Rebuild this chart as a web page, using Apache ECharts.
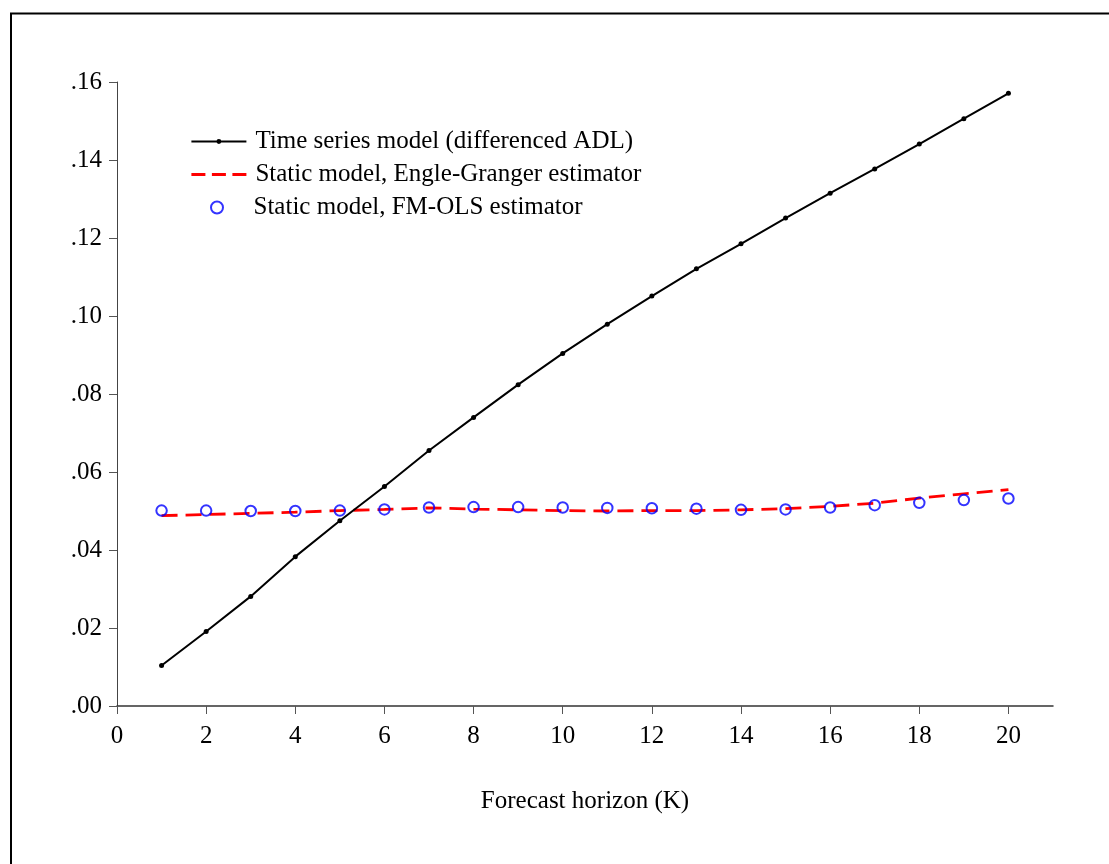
<!DOCTYPE html>
<html>
<head>
<meta charset="utf-8">
<script src="https://cdn.jsdelivr.net/npm/echarts@6/dist/echarts.min.js"></script>
<style>
html,body{margin:0;padding:0;background:#fff;}
#chart{width:1109px;height:864px;}
</style>
</head>
<body>
<div id="chart"></div>
<script>
// Forecast horizons
const horizons = [1,2,3,4,5,6,7,8,9,10,11,12,13,14,15,16,17,18,19,20];
// Time series model (differenced ADL)
const adlValues = [0.0104,0.0191,0.0281,0.0383,0.0475,0.0563,0.0655,0.0740,0.0824,0.0904,
                   0.0979,0.1051,0.1121,0.1185,0.1251,0.1315,0.1377,0.1441,0.1506,0.1571];
// Static model, Engle-Granger estimator
const egValues = [0.0488,0.0491,0.0494,0.0497,0.0501,0.0504,0.0508,0.0505,0.0503,0.0501,
                  0.0500,0.0501,0.0501,0.0503,0.0506,0.0512,0.0520,0.0533,0.0544,0.0555];
// Static model, FM-OLS estimator
const fmValues = [0.0501,0.0501,0.0500,0.0500,0.0501,0.0504,0.0509,0.0510,0.0510,0.0509,
                  0.0508,0.0507,0.0506,0.0503,0.0504,0.0509,0.0515,0.0521,0.0528,0.0532];
// Tick labels
const xTicks = [0,2,4,6,8,10,12,14,16,18,20];
const yTickLabels = ['.00','.02','.04','.06','.08','.10','.12','.14','.16'];

const seriesNames = ['Time series model (differenced ADL)',
                     'Static model, Engle-Granger estimator',
                     'Static model, FM-OLS estimator'];

const FONT = 'Liberation Serif';
const BLUE = '#0000ff';
const pair = (vals) => horizons.map((h, i) => [h, vals[i]]);
const legendText = {fontFamily: FONT, fontSize: 25, color: '#000', padding: [0, 0, 0, 4]};

const chart = echarts.init(document.getElementById('chart'), null, {renderer: 'canvas'});
chart.setOption({
  backgroundColor: '#fff',
  animation: false,
  graphic: [{
    type: 'rect',
    shape: {x: 11, y: 13.5, width: 1120, height: 880},
    style: {fill: 'none', stroke: '#000', lineWidth: 2},
    silent: true
  }],
  grid: {left: 117, right: 56, top: 82, bottom: 158, containLabel: false},
  legend: [{
    orient: 'vertical',
    left: 190,
    top: 129,
    padding: 0,
    itemWidth: 55,
    itemHeight: 6,
    itemGap: 8,
    textStyle: legendText,
    data: [
      {name: seriesNames[0]},
      {name: seriesNames[1], itemStyle: {color: 'rgba(0,0,0,0)', borderWidth: 0},
       lineStyle: {color: '#ff0000', width: 2.8, type: [14, 6.5]}}
    ]
  }, {
    orient: 'vertical',
    left: 210,
    top: 195,
    padding: 0,
    itemWidth: 55,
    itemHeight: 12,
    textStyle: legendText,
    data: [seriesNames[2]]
  }],
  xAxis: {
    type: 'value',
    min: 0,
    max: 21,
    interval: 2,
    name: 'Forecast horizon (K)',
    nameLocation: 'middle',
    nameGap: 83,
    nameTextStyle: {fontFamily: FONT, fontSize: 25, color: '#000'},
    axisLine: {show: true, onZero: false, lineStyle: {color: '#333', width: 1.5}},
    axisTick: {show: true, length: 8, lineStyle: {color: '#555', width: 1}, customValues: xTicks},
    axisLabel: {fontFamily: FONT, fontSize: 25, color: '#000', margin: 18, customValues: xTicks},
    splitLine: {show: false}
  },
  yAxis: {
    type: 'value',
    min: 0,
    max: 0.16,
    interval: 0.02,
    axisLine: {show: true, lineStyle: {color: '#444', width: 1}},
    axisTick: {show: true, length: 8, lineStyle: {color: '#555', width: 1}},
    axisLabel: {
      fontFamily: FONT, fontSize: 25, color: '#000', margin: 15,
      formatter: (v) => yTickLabels[Math.round(v / 0.02)]
    },
    splitLine: {show: false}
  },
  series: [
    {
      name: seriesNames[0],
      type: 'line',
      data: pair(adlValues),
      symbol: 'circle',
      symbolSize: 5,
      showSymbol: true,
      itemStyle: {color: '#000'},
      lineStyle: {color: '#000', width: 2},
      z: 3
    },
    {
      name: seriesNames[1],
      type: 'line',
      data: pair(egValues),
      symbol: 'none',
      itemStyle: {color: '#ff0000'},
      lineStyle: {color: '#ff0000', width: 2.8, type: [16, 8]},
      z: 2
    },
    {
      name: seriesNames[2],
      type: 'scatter',
      data: pair(fmValues),
      symbol: 'circle',
      symbolSize: 10.5,
      itemStyle: {color: 'rgba(255,255,255,0)', borderColor: BLUE, borderWidth: 2},
      z: 4
    }
  ]
});
</script>
</body>
</html>
